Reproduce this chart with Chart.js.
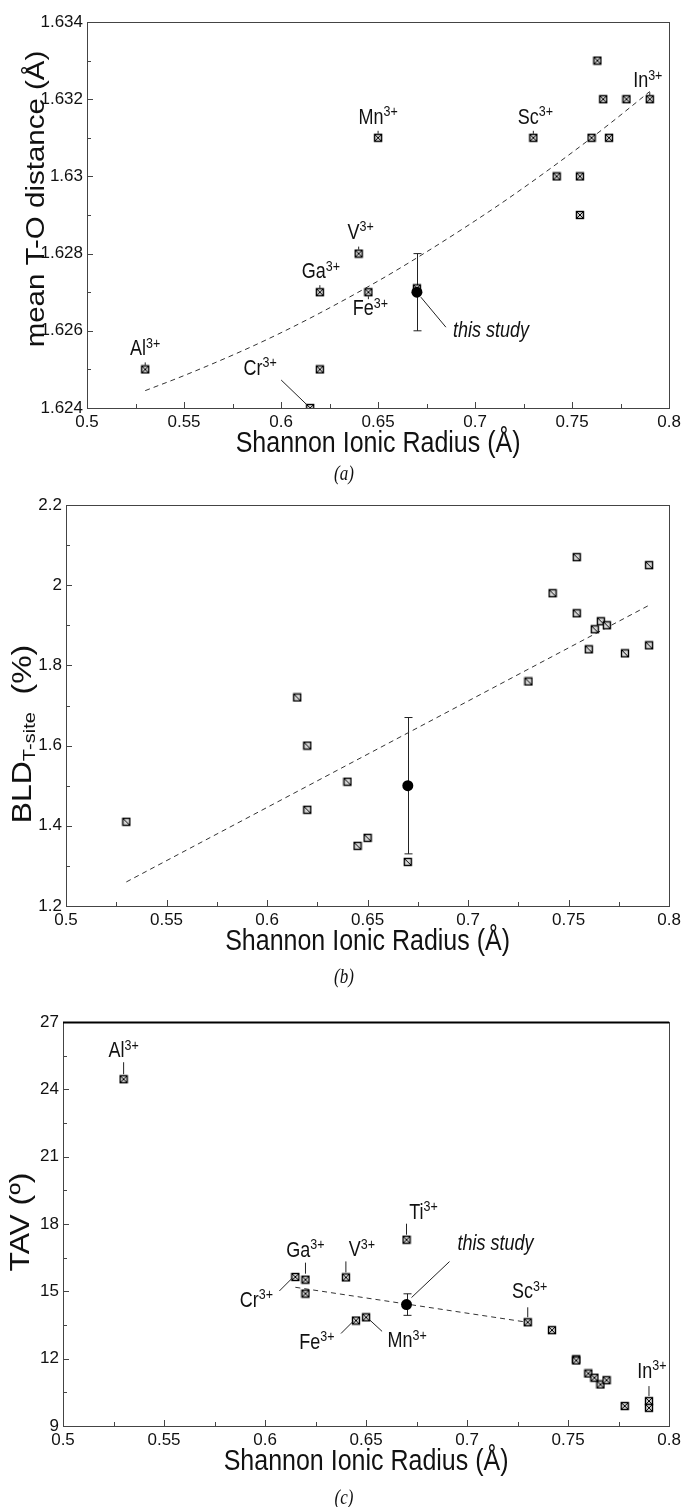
<!DOCTYPE html>
<html>
<head>
<meta charset="utf-8">
<script src="https://cdn.jsdelivr.net/npm/chart.js@4.4.1/dist/chart.umd.min.js"></script>
<style>
  html, body { margin: 0; padding: 0; background: #fff; }
  #wrap { position: relative; width: 685px; height: 1507px; }
  .panel { position: absolute; left: 0; width: 685px; }
</style>
</head>
<body>
<div id="wrap">
  <div class="panel" style="top:0;height:490px"><canvas id="chartA"></canvas></div>
  <div class="panel" style="top:490px;height:500px"><canvas id="chartB"></canvas></div>
  <div class="panel" style="top:990px;height:517px"><canvas id="chartC"></canvas></div>
</div>
<script>
// ---- data ----
// (a) mean T-O distance vs Shannon ionic radius
const radiusA = [0.53, 0.615, 0.62, 0.62, 0.64, 0.645, 0.65, 0.67, 0.73, 0.742, 0.754, 0.754, 0.76, 0.763, 0.766, 0.769, 0.778, 0.79];
const meanTO  = [1.625, 1.624, 1.627, 1.625, 1.628, 1.627, 1.631, 1.6271, 1.631, 1.630, 1.630, 1.629, 1.631, 1.633, 1.632, 1.631, 1.632, 1.632];
const fitRadiusA = [0.53, 0.55, 0.58, 0.60, 0.62, 0.65, 0.67, 0.70, 0.72, 0.75, 0.77, 0.79];
const fitMeanTO  = [1.62445, 1.62484, 1.62548, 1.62595, 1.62646, 1.62729, 1.62789, 1.62885, 1.62953, 1.63062, 1.63139, 1.63220];

// (b) bond length distortion of the T site
const radiusB  = [0.53, 0.615, 0.62, 0.62, 0.64, 0.645, 0.65, 0.67, 0.73, 0.742, 0.754, 0.754, 0.76, 0.763, 0.766, 0.769, 0.778, 0.79, 0.79];
const bldTsite = [1.41, 1.72, 1.60, 1.44, 1.51, 1.35, 1.37, 1.31, 1.76, 1.98, 2.07, 1.93, 1.84, 1.89, 1.91, 1.90, 1.83, 2.05, 1.85];
const fitRadiusB = [0.53, 0.79];
const fitBld     = [1.26, 1.95];

// (c) tetrahedral angle variance
const radiusC = [0.53, 0.615, 0.62, 0.62, 0.64, 0.645, 0.65, 0.67, 0.73, 0.742, 0.754, 0.754, 0.76, 0.763, 0.766, 0.769, 0.778, 0.79, 0.79];
const tav     = [24.45, 15.64, 15.52, 14.90, 15.62, 13.70, 13.84, 17.30, 13.62, 13.27, 11.97, 11.92, 11.34, 11.15, 10.85, 11.04, 9.89, 10.11, 9.81];
const fitRadiusC = [0.615, 0.73];
const fitTav     = [15.18, 13.62];

// this study (with standard uncertainty)
const studyRadius = [0.67];
const studyMeanTO = [1.627];  const studyMeanTOErr = [0.001];
const studyBld    = [1.50];   const studyBldErr    = [0.17];
const studyTav    = [14.41];  const studyTavErr    = [0.48];

// ---- helpers ----
const SANS = "'Liberation Sans', Arial, Helvetica, sans-serif";
const V_STRETCH = 1.18;   // figure text is tall and narrow

Chart.defaults.font.family = SANS;
Chart.defaults.color = '#111';

const zip = (xs, ys) => xs.map((x, i) => ({ x, y: ys[i] }));

function boxMarker(cross) {
  const c = document.createElement('canvas');
  c.width = 10; c.height = 10;
  const g = c.getContext('2d');
  g.fillStyle = '#ddd';
  g.fillRect(1, 1, 8, 8);
  g.strokeStyle = '#000';
  g.lineWidth = 1.4;
  g.strokeRect(1.5, 1.5, 7, 7);
  g.lineWidth = 1;
  g.beginPath();
  g.moveTo(2, 2); g.lineTo(8, 8);
  if (cross) { g.moveTo(8, 2); g.lineTo(2, 8); }
  g.stroke();
  return c;
}

// parts: [{t, size, rise, italic, serif}]
function drawParts(ctx, parts, x, y, align, rotated) {
  const fontOf = p => `${p.italic ? 'italic ' : ''}${p.size}px ${p.serif ? "'Liberation Serif', 'Times New Roman', serif" : SANS}`;
  let w = 0;
  parts.forEach(p => { ctx.font = fontOf(p); w += ctx.measureText(p.t).width; });
  ctx.save();
  ctx.translate(x, y);
  ctx.scale(1, V_STRETCH);
  if (rotated) ctx.rotate(-Math.PI / 2);
  ctx.textAlign = 'left';
  ctx.textBaseline = rotated ? 'middle' : 'alphabetic';
  let cx = align === 'center' ? -w / 2 : 0;
  parts.forEach(p => {
    ctx.font = fontOf(p);
    ctx.fillText(p.t, cx, -(p.rise || 0));
    cx += ctx.measureText(p.t).width;
  });
  ctx.restore();
}

const ionParts = ion => [{ t: ion, size: 18 }, { t: '3+', size: 12.5, rise: 6.5 }];

// error bar, ticks, frame, labels and titles
const panelDecor = {
  id: 'panelDecor',
  beforeDatasetsDraw(chart, args, o) {
    const { ctx, scales: { x, y } } = chart;
    ctx.save();
    ctx.strokeStyle = '#222';
    ctx.lineWidth = 1;
    o.errX.forEach((xv, i) => {
      const px = Math.round(x.getPixelForValue(xv)) + 0.5;
      const top = y.getPixelForValue(o.errY[i] + o.err[i]);
      const bot = y.getPixelForValue(o.errY[i] - o.err[i]);
      ctx.beginPath();
      ctx.moveTo(px, top); ctx.lineTo(px, bot);
      ctx.moveTo(px - 4, top); ctx.lineTo(px + 4, top);
      ctx.moveTo(px - 4, bot); ctx.lineTo(px + 4, bot);
      ctx.stroke();
    });
    ctx.restore();
  },
  afterDatasetsDraw(chart, args, o) {
    const { ctx, chartArea: a, scales: { x, y } } = chart;
    ctx.save();
    ctx.strokeStyle = '#444';
    ctx.lineWidth = 1;
    // inward ticks
    ctx.beginPath();
    const xs = x.options.ticks.stepSize / 2;
    for (let k = 0; x.min + k * xs <= x.max + 1e-9; k++) {
      const px = Math.round(x.getPixelForValue(x.min + k * xs)) + 0.5;
      const len = k % 2 ? 4 : 6;
      ctx.moveTo(px, a.bottom); ctx.lineTo(px, a.bottom - len);
    }
    const ys = y.options.ticks.stepSize / 2;
    for (let k = 0; y.min + k * ys <= y.max + 1e-9; k++) {
      const py = Math.round(y.getPixelForValue(y.min + k * ys)) + 0.5;
      const len = k % 2 ? 4 : 6;
      ctx.moveTo(a.left, py); ctx.lineTo(a.left + len, py);
    }
    ctx.stroke();
    ctx.strokeRect(Math.round(a.left) + 0.5, Math.round(a.top) + 0.5,
                   Math.round(a.right - a.left), Math.round(a.bottom - a.top));
    if (o.heavyTop) {
      ctx.strokeStyle = '#000';
      ctx.lineWidth = 2;
      ctx.beginPath();
      ctx.moveTo(a.left, Math.round(a.top) + 0.5);
      ctx.lineTo(a.right, Math.round(a.top) + 0.5);
      ctx.stroke();
      ctx.lineWidth = 1;
    }

    // ion labels with leader lines
    ctx.fillStyle = '#111';
    ctx.strokeStyle = '#222';
    o.ions.forEach(l => {
      const px = x.getPixelForValue(o.ptX[l.i]);
      const py = y.getPixelForValue(o.ptY[l.i]);
      ctx.beginPath();
      ctx.moveTo(px + l.lead[0], py + l.lead[1]);
      ctx.lineTo(px + l.lead[2], py + l.lead[3]);
      ctx.stroke();
      drawParts(ctx, ionParts(l.ion), px + l.dx, py + l.dy, 'center');
    });
    if (o.study) {
      const s = o.study;
      const px = x.getPixelForValue(o.errX[0]);
      const py = y.getPixelForValue(o.errY[0]);
      ctx.beginPath();
      ctx.moveTo(px + s.lead[0], py + s.lead[1]);
      ctx.lineTo(px + s.lead[2], py + s.lead[3]);
      ctx.stroke();
      drawParts(ctx, [{ t: 'this study', size: 18, italic: true }], px + s.dx, py + s.dy, 'left');
    }

    // axis titles and panel caption
    drawParts(ctx, o.yTitle, o.yTitlePos[0], o.yTitlePos[1], 'center', true);
    drawParts(ctx, [{ t: 'Shannon Ionic Radius (Å)', size: 25 }], (a.left + a.right) / 2, a.bottom + 44, 'center');
    drawParts(ctx, [{ t: o.caption, size: 17, italic: true, serif: true }], 344, a.bottom + o.captionDy, 'center');
    ctx.restore();
  }
};

function makePanel(id, p) {
  return new Chart(document.getElementById(id), {
    type: 'scatter',
    data: {
      datasets: [
        {
          data: zip(studyRadius, p.studyY),
          pointStyle: 'circle', pointRadius: 5.5,
          backgroundColor: '#000', borderColor: '#000', borderWidth: 0,
          order: 0,
        },
        {
          data: zip(p.x, p.y),
          pointStyle: boxMarker(p.cross), pointRadius: 5,
          order: 1,
        },
        {
          data: zip(p.fitX, p.fitY),
          showLine: true, pointRadius: 0,
          borderColor: '#333', borderWidth: 1, borderDash: [5, 4],
          cubicInterpolationMode: 'monotone',
          order: 2,
        },
      ],
    },
    options: {
      responsive: true,
      maintainAspectRatio: false,
      animation: false,
      events: [],
      layout: { padding: { top: p.top, right: p.right, left: 0, bottom: 0 } },
      plugins: {
        legend: { display: false },
        tooltip: { enabled: false },
        panelDecor: {
          errX: studyRadius, errY: p.studyY, err: p.studyErr,
          ptX: p.x, ptY: p.y, ions: p.ions, study: p.study,
          yTitle: p.yTitle, yTitlePos: p.yTitlePos,
          caption: p.caption, captionDy: p.captionDy, heavyTop: p.heavyTop,
        },
      },
      scales: {
        x: {
          type: 'linear', min: 0.5, max: 0.8,
          grid: { display: false, drawTicks: false },
          border: { display: false },
          ticks: {
            stepSize: 0.05, padding: 4, autoSkip: false, maxRotation: 0,
            font: { size: 17 }, color: '#111',
            callback: v => String(+v.toFixed(2)),
          },
          afterFit: s => { s.height = p.xAxisH; },
        },
        y: {
          type: 'linear', min: p.yMin, max: p.yMax,
          grid: { display: false, drawTicks: false },
          border: { display: false },
          ticks: {
            stepSize: p.yStep, padding: 4, autoSkip: false,
            font: { size: 17 }, color: '#111',
            callback: v => String(+v.toFixed(p.yDec)),
          },
          afterFit: s => { s.width = p.left; },
        },
      },
    },
    plugins: [panelDecor],
  });
}

makePanel('chartA', {
  x: radiusA, y: meanTO, fitX: fitRadiusA, fitY: fitMeanTO,
  studyY: studyMeanTO, studyErr: studyMeanTOErr, cross: true,
  yMin: 1.624, yMax: 1.634, yStep: 0.002, yDec: 3,
  top: 22, right: 14, left: 87, xAxisH: 82,
  ions: [
    { ion: 'Al', i: 0,  dx: 0,   dy: -14, lead: [0, -4, 0, -7] },
    { ion: 'Cr', i: 1,  dx: -50, dy: -33, lead: [-29, -28, -3, -3] },
    { ion: 'Ga', i: 2,  dx: 1,   dy: -14, lead: [0, -4, 0, -7] },
    { ion: 'V',  i: 4,  dx: 2,   dy: -15, lead: [0, -4, 0, -7] },
    { ion: 'Fe', i: 5,  dx: 2,   dy: 23,  lead: [0, 4, 0, 7] },
    { ion: 'Mn', i: 6,  dx: 0,   dy: -14, lead: [0, -4, 0, -7] },
    { ion: 'Sc', i: 8,  dx: 2,   dy: -14, lead: [0, -4, 0, -7] },
    { ion: 'In', i: 17, dx: -2,  dy: -12, lead: [0, -4, 0, -7] },
  ],
  study: { dx: 36, dy: 45, lead: [4, 5, 29, 35] },
  yTitle: [{ t: 'mean T-O distance (Å)', size: 25 }],
  yTitlePos: [37, 199],
  caption: '(a)', captionDy: 72,
});

makePanel('chartB', {
  x: radiusB, y: bldTsite, fitX: fitRadiusB, fitY: fitBld,
  studyY: studyBld, studyErr: studyBldErr, cross: false,
  yMin: 1.2, yMax: 2.2, yStep: 0.2, yDec: 1,
  top: 15, right: 15, left: 66, xAxisH: 84,
  ions: [],
  study: null,
  yTitle: [{ t: 'BLD', size: 27 }, { t: 'T-site', size: 17, rise: -6 }, { t: '  (%)', size: 27 }],
  yTitlePos: [24, 244],
  caption: '(b)', captionDy: 77,
});

makePanel('chartC', {
  x: radiusC, y: tav, fitX: fitRadiusC, fitY: fitTav,
  studyY: studyTav, studyErr: studyTavErr, cross: true,
  yMin: 9, yMax: 27, yStep: 3, yDec: 0,
  top: 32, right: 15, left: 63, xAxisH: 81, heavyTop: true,
  ions: [
    { ion: 'Al', i: 0,  dx: 0,   dy: -22, lead: [0, -5, 0, -17] },
    { ion: 'Cr', i: 1,  dx: -39, dy: 30,  lead: [-16, 14, -3, 1] },
    { ion: 'Ga', i: 2,  dx: 0,   dy: -23, lead: [0, -6, 0, -17] },
    { ion: 'V',  i: 4,  dx: 16,  dy: -21, lead: [0, -5, 0, -16] },
    { ion: 'Fe', i: 5,  dx: -39, dy: 28,  lead: [-15, 13, -3, 1] },
    { ion: 'Mn', i: 6,  dx: 41,  dy: 30,  lead: [3, 2, 16, 14] },
    { ion: 'Ti', i: 7,  dx: 17,  dy: -21, lead: [0, -5, 0, -16] },
    { ion: 'Sc', i: 8,  dx: 2,   dy: -24, lead: [0, -5, 0, -15] },
    { ion: 'In', i: 17, dx: 3,   dy: -23, lead: [0, -5, 0, -15] },
  ],
  study: { dx: 51, dy: -55, lead: [5, -7, 43, -43] },
  yTitle: [{ t: 'TAV (º)', size: 27 }],
  yTitlePos: [22, 232],
  caption: '(c)', captionDy: 78,
});
</script>
</body>
</html>
